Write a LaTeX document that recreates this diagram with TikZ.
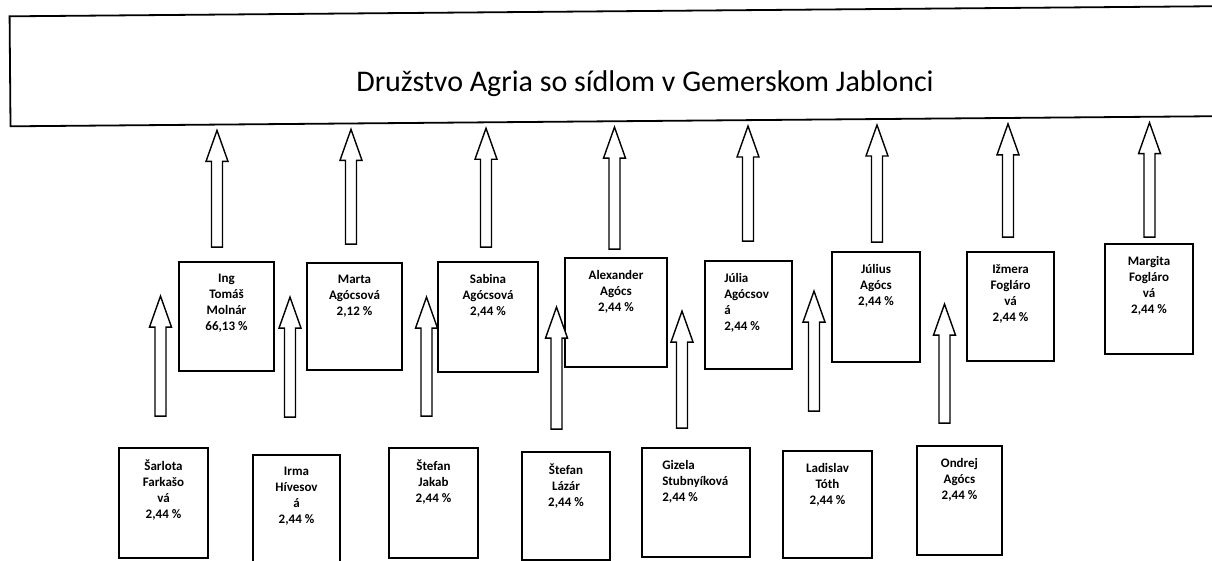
\documentclass[tikz,border=0pt]{standalone}
\usepackage{fontspec}
\setmainfont{Carlito}
\usetikzlibrary{calc}

\tikzset{
  owner/.style={draw, line width=1.8pt, inner sep=0pt},
  who/.style={anchor=north, yshift=-13pt, align=center, inner sep=0pt,
    font=\fontsize{13}{16}\selectfont\bfseries, execute at begin node=\strut},
  whol/.style={who, anchor=north west, align=left},
  fat/.style={draw, fill=white, line width=1.4pt, to path={
    let \p1=(\tikztostart), \p2=(\tikztotarget) in
    (\x1-5.5pt,\y1) -- (\x1-5.5pt,\y2-31pt) -- (\x1-11pt,\y2-31pt) -- (\x1,\y2)
    -- (\x1+11pt,\y2-31pt) -- (\x1+5.5pt,\y2-31pt) -- (\x1+5.5pt,\y1) -- cycle}}
}

\begin{document}
\begin{tikzpicture}[x=1pt,y=-1pt]
      \useasboundingbox (0,0) rectangle (1212,561);
      \clip (0,0) rectangle (1212,561);
      \node[owner, rotate=0.48, minimum width=1270, minimum height=110,
        label={[font=\fontsize{30}{36}\selectfont, yshift=-18pt]center:Družstvo Agria so sídlom v Gemerskom Jablonci}] (top) at (645,66) {};
      % upper row
      \node[owner, minimum width=95, minimum height=109, label={[who]north:{Ing\\Tomáš\\Molnár\\66,13 \%}}] (molnar) at (226.5,316.5) {};
      \node[owner, minimum width=95, minimum height=107, label={[who]north:{Marta\\Agócsová\\2,12 \%}}] (marta) at (354.5,316.5) {};
      \node[owner, minimum width=100, minimum height=110, label={[who]north:{Sabina\\Agócsová\\2,44 \%}}] (sabina) at (488,317) {};
      \node[owner, minimum width=102, minimum height=109, label={[who]north:{Alexander\\Agócs\\2,44 \%}}] (alexander) at (616,312.5) {};
      \node[owner, minimum width=87, minimum height=108, label={[whol, xshift=20pt]north west:{Júlia\\Agócsov\\á\\2,44 \%}}] (julia) at (748.5,315) {};
      \node[owner, minimum width=88, minimum height=110, label={[who]north:{Július\\Agócs\\2,44 \%}}] (julius) at (876,307) {};
      \node[owner, minimum width=87, minimum height=109, label={[who]north:{Ižmera\\Fogláro\\vá\\2,44 \%}}] (izmera) at (1010.5,306.5) {};
      \node[owner, minimum width=88, minimum height=110, label={[who]north:{Margita\\Fogláro\\vá\\2,44 \%}}] (margita) at (1149,299) {};
      % lower row
      \node[owner, minimum width=89, minimum height=110, label={[who]north:{Šarlota\\Farkašo\\vá\\2,44 \%}}] (sarlota) at (163.5,503) {};
      \node[owner, minimum width=87, minimum height=111, label={[who]north:{Irma\\Hívesov\\á\\2,44 \%}}] (irma) at (296.5,510.5) {};
      \node[owner, minimum width=89, minimum height=110, label={[who]north:{Štefan\\Jakab\\2,44 \%}}] (jakab) at (433.5,503) {};
      \node[owner, minimum width=88, minimum height=108, label={[who]north:{Štefan\\Lázár\\2,44 \%}}] (lazar) at (566,506) {};
      \node[owner, minimum width=108, minimum height=109, label={[whol, xshift=21pt]north west:{Gizela\\Stubnyíková\\2,44 \%}}] (gizela) at (696,502.5) {};
      \node[owner, minimum width=89, minimum height=107, label={[who]north:{Ladislav\\Tóth\\2,44 \%}}] (ladislav) at (827.5,504.5) {};
      \node[owner, minimum width=85, minimum height=109, label={[who]north:{Ondrej\\Agócs\\2,44 \%}}] (ondrej) at (959.5,500.5) {};
      % arrows to the cooperative
      \draw[fat] ([xshift=-9.5pt,yshift=14pt]molnar.north) to ($(top.south west)!(molnar.north)!(top.south east)+(0,5)$);
      \draw[fat] ([xshift=-3.5pt,yshift=18pt]marta.north) to ($(top.south west)!(marta.north)!(top.south east)+(0,5)$);
      \draw[fat] ([xshift=-2pt,yshift=14pt]sabina.north) to ($(top.south west)!(sabina.north)!(top.south east)+(0,5)$);
      \draw[fat] ([xshift=-1.5pt,yshift=8pt]alexander.north) to ($(top.south west)!(alexander.north)!(top.south east)+(0,5)$);
      \draw[fat] ([xshift=-0.5pt,yshift=19pt]julia.north) to ($(top.south west)!(julia.north)!(top.south east)+(0,5)$);
      \draw[fat] ([xshift=1pt,yshift=9pt]julius.north) to ($(top.south west)!(julius.north)!(top.south east)+(0,5)$);
      \draw[fat] ([xshift=-2.5pt,yshift=14pt]izmera.north) to ($(top.south west)!(izmera.north)!(top.south east)+(0,5)$);
      \draw[fat] ([xshift=0.5pt,yshift=6pt]margita.north) to ($(top.south west)!(margita.north)!(top.south east)+(0,5)$);
      % arrows from the lower row
      \draw[fat] ([xshift=-3pt,yshift=31pt]sarlota.north) to ([xshift=-3pt,yshift=151pt]sarlota.north);
      \draw[fat] ([xshift=-6.5pt,yshift=37pt]irma.north) to ([xshift=-6.5pt,yshift=157pt]irma.north);
      \draw[fat] ([xshift=-7pt,yshift=31pt]jakab.north) to ([xshift=-7pt,yshift=150pt]jakab.north);
      \draw[fat] ([xshift=-9.5pt,yshift=22pt]lazar.north) to ([xshift=-9.5pt,yshift=144pt]lazar.north);
      \draw[fat] ([xshift=-14pt,yshift=19pt]gizela.north) to ([xshift=-14pt,yshift=136pt]gizela.north);
      \draw[fat] ([xshift=-13.5pt,yshift=39pt]ladislav.north) to ([xshift=-13.5pt,yshift=159pt]ladislav.north);
      \draw[fat] ([xshift=-15pt,yshift=22pt]ondrej.north) to ([xshift=-15pt,yshift=141pt]ondrej.north);
\end{tikzpicture}
\end{document}
